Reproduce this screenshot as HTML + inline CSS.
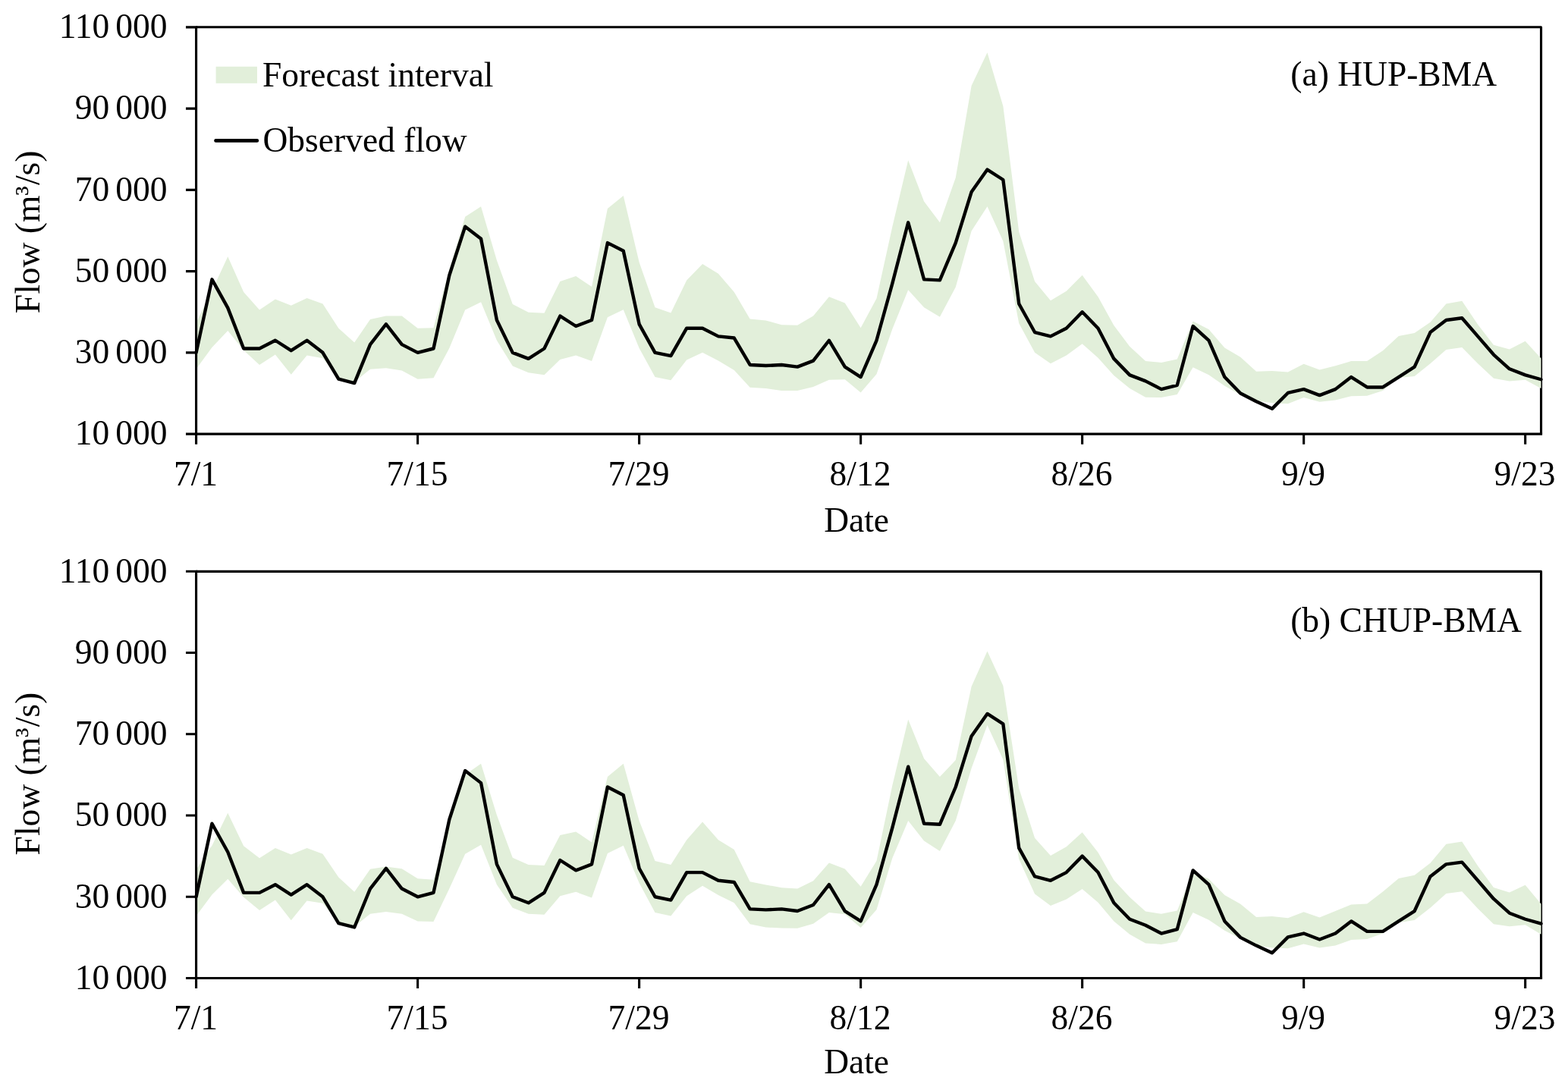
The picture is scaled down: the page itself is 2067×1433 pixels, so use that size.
<!DOCTYPE html>
<html lang="en">
<head>
<meta charset="utf-8">
<title>Forecast interval vs observed flow</title>
<style>
html,body{margin:0;padding:0;background:#fff}
body{width:2067px;height:1433px;overflow:hidden}
svg{display:block}
text{font-family:'Liberation Serif', 'Times New Roman', Times, serif;font-size:45.5px;fill:#000}
</style>
</head>
<body>
<svg width="2067" height="1433" viewBox="0 0 2067 1433">
<rect width="2067" height="1433" fill="#fff"/>
<path fill="none" stroke="#000" stroke-width="3.1" stroke-linejoin="round" d="M258.6 35.8H2031.53V572.1"/>
<polygon fill="#E2EFDA" points="258.6,425.18 279.46,383.36 300.32,338.32 321.17,384.97 342.03,408.56 362.89,394.62 383.75,402.66 404.61,393.01 425.46,400.52 446.32,432.69 467.18,451.46 488.04,420.89 508.9,416.6 529.75,416.6 550.61,432.69 571.47,432.15 592.33,354.94 613.19,285.77 634.04,272.36 654.9,343.14 675.76,401.05 696.62,411.78 717.48,412.85 738.33,371.02 759.19,364.05 780.05,378 800.91,275.05 821.77,257.89 842.62,345.82 863.48,405.34 884.34,412.58 905.2,369.42 926.06,347.97 946.91,360.84 967.77,384.97 988.63,420.62 1009.49,422.5 1030.35,428.13 1051.2,428.67 1072.06,416.6 1092.92,391.13 1113.78,399.44 1134.64,432.15 1155.49,393.55 1176.35,298.64 1197.21,211.24 1218.07,265.39 1238.93,293.28 1259.78,234.29 1280.64,113.11 1301.5,69.14 1322.36,139.92 1343.22,305.61 1364.07,371.02 1384.93,396.23 1405.79,383.63 1426.65,362.71 1447.51,391.13 1468.36,428.93 1489.22,456.82 1510.08,476.12 1530.94,478 1551.8,473.44 1572.65,423.57 1593.51,434.3 1614.37,458.43 1635.23,470.76 1656.09,489.79 1676.94,488.99 1697.8,490.6 1718.66,479.87 1739.52,487.38 1760.38,482.29 1781.23,476.12 1802.09,476.12 1822.95,462.18 1843.81,442.88 1864.67,439.12 1885.52,424.64 1906.38,400.52 1927.24,396.76 1948.1,427.86 1968.96,454.67 1989.81,460.57 2010.67,449.85 2031.53,472.53 2031.53,512.05 2010.67,500.79 1989.81,502.39 1968.96,498.64 1948.1,479.34 1927.24,457.89 1906.38,461.11 1885.52,479.34 1864.67,495.96 1843.81,498.1 1822.95,514.99 1802.09,521.7 1781.23,522.23 1760.38,527.6 1739.52,529.74 1718.66,524.11 1697.8,532.15 1676.94,531.35 1656.09,528.13 1635.23,520.62 1614.37,508.83 1593.51,494.35 1572.65,484.16 1551.8,520.09 1530.94,524.11 1510.08,523.84 1489.22,512.05 1468.36,494.89 1447.51,471.83 1426.65,453.33 1405.79,468.61 1384.93,479.34 1364.07,464.86 1343.22,426.25 1322.36,317.94 1301.5,272.36 1280.64,304.54 1259.78,378.53 1238.93,417.67 1218.07,405.34 1197.21,382.29 1176.35,433.76 1155.49,493.28 1134.64,517.41 1113.78,500.25 1092.92,500.79 1072.06,509.9 1051.2,514.99 1030.35,514.99 1009.49,512.05 988.63,510.71 967.77,487.92 946.91,475.58 926.06,464.86 905.2,474.51 884.34,501.32 863.48,497.03 842.62,458.96 821.77,408.29 800.91,418.21 780.05,476.12 759.19,468.61 738.33,473.98 717.48,494.35 696.62,491.13 675.76,482.55 654.9,448.77 634.04,398.37 613.19,408.56 592.33,458.96 571.47,498.37 550.61,499.71 529.75,488.45 508.9,485.24 488.04,486.84 467.18,503.47 446.32,498.1 425.46,472.37 404.61,468.61 383.75,493.81 362.89,467.54 342.03,480.95 321.17,461.64 300.32,435.91 279.46,457.89 258.6,486.58"/>
<path fill="none" stroke="#000" stroke-width="3.1" d="M258.6 34.25V585.7M245 572.1H2033.08M245 464.86H258.6M245 357.62H258.6M245 250.38H258.6M245 143.14H258.6M245 35.9H258.6M550.61 572.1V585.7M842.62 572.1V585.7M1134.64 572.1V585.7M1426.65 572.1V585.7M1718.66 572.1V585.7M2010.67 572.1V585.7"/>
<polyline fill="none" stroke="#000" stroke-width="4.4" stroke-linejoin="round" stroke-linecap="round" points="258.6,464.86 279.46,368.34 300.32,405.88 321.17,459.5 342.03,459.5 362.89,448.77 383.75,462.18 404.61,448.77 425.46,464.86 446.32,499.71 467.18,505.08 488.04,454.14 508.9,427.33 529.75,454.14 550.61,464.86 571.47,459.5 592.33,362.98 613.19,298.64 634.04,314.72 654.9,421.96 675.76,464.86 696.62,472.9 717.48,459.5 738.33,416.6 759.19,430.01 780.05,421.96 800.91,320.09 821.77,330.81 842.62,427.33 863.48,464.86 884.34,469.15 905.2,432.69 926.06,432.69 946.91,443.41 967.77,445.56 988.63,480.95 1009.49,482.02 1030.35,480.95 1051.2,483.63 1072.06,475.58 1092.92,448.77 1113.78,483.63 1134.64,497.03 1155.49,448.77 1176.35,373.71 1197.21,293.28 1218.07,368.34 1238.93,369.42 1259.78,320.09 1280.64,253.06 1301.5,223.57 1322.36,236.98 1343.22,400.52 1364.07,438.05 1384.93,443.41 1405.79,432.69 1426.65,411.24 1447.51,432.69 1468.36,472.9 1489.22,494.35 1510.08,502.39 1530.94,513.12 1551.8,507.76 1572.65,430.01 1593.51,448.77 1614.37,497.03 1635.23,518.48 1656.09,529.2 1676.94,538.86 1697.8,517.94 1718.66,513.12 1739.52,521.16 1760.38,513.12 1781.23,497.03 1802.09,510.44 1822.95,510.44 1843.81,497.03 1864.67,483.63 1885.52,438.05 1906.38,421.96 1927.24,419.28 1948.1,443.41 1968.96,467.54 1989.81,486.31 2010.67,494.35 2031.53,500.25"/>
<text x="220.5" y="586.4" text-anchor="end">10 <tspan dx="-1.11">000</tspan></text>
<text x="220.5" y="479.16" text-anchor="end">30 <tspan dx="-1.11">000</tspan></text>
<text x="220.5" y="371.92" text-anchor="end">50 <tspan dx="-1.11">000</tspan></text>
<text x="220.5" y="264.68" text-anchor="end">70 <tspan dx="-1.11">000</tspan></text>
<text x="220.5" y="157.44" text-anchor="end">90 <tspan dx="-1.11">000</tspan></text>
<text x="220.5" y="50.2" text-anchor="end">110 <tspan dx="-1.11">000</tspan></text>
<text x="258" y="639.9" text-anchor="middle">7/1</text>
<text x="550.01" y="639.9" text-anchor="middle">7/15</text>
<text x="842.02" y="639.9" text-anchor="middle">7/29</text>
<text x="1134.04" y="639.9" text-anchor="middle">8/12</text>
<text x="1426.05" y="639.9" text-anchor="middle">8/26</text>
<text x="1718.06" y="639.9" text-anchor="middle">9/9</text>
<text x="2010.07" y="639.9" text-anchor="middle">9/23</text>
<text x="1129.1" y="700.8" text-anchor="middle">Date</text>
<text transform="translate(52 305.85) rotate(-90)" text-anchor="middle">Flow (m<tspan font-size="41.5" dy="-2.8">³</tspan><tspan dy="2.8" dx="1.2">/s)</tspan></text>
<text x="1701.3" y="112.6">(a) HUP-BMA</text>
<path fill="none" stroke="#000" stroke-width="3.1" stroke-linejoin="round" d="M258.6 753.4H2031.53V1289.5"/>
<polygon fill="#E2EFDA" points="258.6,1146.33 279.46,1114.7 300.32,1071.8 321.17,1115.23 342.03,1131.32 362.89,1117.92 383.75,1126.5 404.61,1117.92 425.46,1125.69 446.32,1156.52 467.18,1175.83 488.04,1145.8 508.9,1142.58 529.75,1145.26 550.61,1158.13 571.47,1159.74 592.33,1083.06 613.19,1021.4 634.04,1006.65 654.9,1074.48 675.76,1130.78 696.62,1139.9 717.48,1140.97 738.33,1101.03 759.19,1096.47 780.05,1110.41 800.91,1024.08 821.77,1006.65 842.62,1081.99 863.48,1135.07 884.34,1139.9 905.2,1107.19 926.06,1083.6 946.91,1107.19 967.77,1120.06 988.63,1162.15 1009.49,1166.44 1030.35,1170.2 1051.2,1171.54 1072.06,1161.35 1092.92,1137.49 1113.78,1145.53 1134.64,1168.86 1155.49,1135.07 1176.35,1035.34 1197.21,948.48 1218.07,999.95 1238.93,1024.08 1259.78,1002.1 1280.64,905.04 1301.5,858.4 1322.36,903.97 1343.22,1039.36 1364.07,1104.78 1384.93,1128.1 1405.79,1116.31 1426.65,1097.27 1447.51,1123.81 1468.36,1160.28 1489.22,1182.8 1510.08,1201.56 1530.94,1204.78 1551.8,1200.49 1572.65,1150.09 1593.51,1158.67 1614.37,1180.12 1635.23,1191.64 1656.09,1209.07 1676.94,1208 1697.8,1210.14 1718.66,1202.37 1739.52,1209.61 1760.38,1201.03 1781.23,1192.56 1802.09,1191.48 1822.95,1175.4 1843.81,1157.97 1864.67,1153.68 1885.52,1137.86 1906.38,1112.66 1927.24,1109.44 1948.1,1141.62 1968.96,1170.03 1989.81,1176.47 2010.67,1166.82 2031.53,1191.64 2031.53,1231.86 2010.67,1219.26 1989.81,1221.13 1968.96,1218.19 1948.1,1197.81 1927.24,1175.29 1906.38,1177.97 1885.52,1196.74 1864.67,1213.09 1843.81,1216.31 1822.95,1230.52 1802.09,1238.02 1781.23,1239.1 1760.38,1246.6 1739.52,1249.55 1718.66,1244.46 1697.8,1250.36 1676.94,1249.55 1656.09,1246.6 1635.23,1237.49 1614.37,1226.76 1593.51,1212.82 1572.65,1202.9 1551.8,1241.24 1530.94,1245 1510.08,1243.39 1489.22,1231.86 1468.36,1214.43 1447.51,1189.77 1426.65,1172.07 1405.79,1185.48 1384.93,1194.06 1364.07,1178.51 1343.22,1132.39 1322.36,1001.56 1301.5,955.98 1280.64,1012.82 1259.78,1081.99 1238.93,1121.94 1218.07,1108.53 1197.21,1081.99 1176.35,1131.32 1155.49,1199.15 1134.64,1223.01 1113.78,1205.32 1092.92,1202.9 1072.06,1217.65 1051.2,1223.82 1030.35,1223.55 1009.49,1222.47 988.63,1218.19 967.77,1190.3 946.91,1180.12 926.06,1167.78 905.2,1181.19 884.34,1207.46 863.48,1202.9 842.62,1164.03 821.77,1114.7 800.91,1124.89 780.05,1183.6 759.19,1175.83 738.33,1181.19 717.48,1205.85 696.62,1204.78 675.76,1196.74 654.9,1166.17 634.04,1113.63 613.19,1125.69 592.33,1171.54 571.47,1214.97 550.61,1214.43 529.75,1204.78 508.9,1202.1 488.04,1204.78 467.18,1221.4 446.32,1217.11 425.46,1190.84 404.61,1187.62 383.75,1213.36 362.89,1186.55 342.03,1199.95 321.17,1182.8 300.32,1158.67 279.46,1179.58 258.6,1207.46"/>
<path fill="none" stroke="#000" stroke-width="3.1" d="M258.6 751.85V1303.1M245 1289.5H2033.08M245 1182.26H258.6M245 1075.02H258.6M245 967.78H258.6M245 860.54H258.6M245 753.3H258.6M550.61 1289.5V1303.1M842.62 1289.5V1303.1M1134.64 1289.5V1303.1M1426.65 1289.5V1303.1M1718.66 1289.5V1303.1M2010.67 1289.5V1303.1"/>
<polyline fill="none" stroke="#000" stroke-width="4.4" stroke-linejoin="round" stroke-linecap="round" points="258.6,1182.26 279.46,1085.74 300.32,1123.28 321.17,1176.9 342.03,1176.9 362.89,1166.17 383.75,1179.58 404.61,1166.17 425.46,1182.26 446.32,1217.11 467.18,1222.47 488.04,1171.54 508.9,1144.73 529.75,1171.54 550.61,1182.26 571.47,1176.9 592.33,1080.38 613.19,1016.04 634.04,1032.12 654.9,1139.36 675.76,1182.26 696.62,1190.3 717.48,1176.9 738.33,1134 759.19,1147.41 780.05,1139.36 800.91,1037.49 821.77,1048.21 842.62,1144.73 863.48,1182.26 884.34,1186.55 905.2,1150.09 926.06,1150.09 946.91,1160.81 967.77,1162.96 988.63,1198.35 1009.49,1199.42 1030.35,1198.35 1051.2,1201.03 1072.06,1192.98 1092.92,1166.17 1113.78,1201.03 1134.64,1214.43 1155.49,1166.17 1176.35,1091.11 1197.21,1010.68 1218.07,1085.74 1238.93,1086.82 1259.78,1037.49 1280.64,970.46 1301.5,940.97 1322.36,954.38 1343.22,1117.92 1364.07,1155.45 1384.93,1160.81 1405.79,1150.09 1426.65,1128.64 1447.51,1150.09 1468.36,1190.3 1489.22,1211.75 1510.08,1219.79 1530.94,1230.52 1551.8,1225.16 1572.65,1147.41 1593.51,1166.17 1614.37,1214.43 1635.23,1235.88 1656.09,1246.6 1676.94,1256.26 1697.8,1235.34 1718.66,1230.52 1739.52,1238.56 1760.38,1230.52 1781.23,1214.43 1802.09,1227.84 1822.95,1227.84 1843.81,1214.43 1864.67,1201.03 1885.52,1155.45 1906.38,1139.36 1927.24,1136.68 1948.1,1160.81 1968.96,1184.94 1989.81,1203.71 2010.67,1211.75 2031.53,1217.65"/>
<text x="220.5" y="1303.8" text-anchor="end">10 <tspan dx="-1.11">000</tspan></text>
<text x="220.5" y="1196.56" text-anchor="end">30 <tspan dx="-1.11">000</tspan></text>
<text x="220.5" y="1089.32" text-anchor="end">50 <tspan dx="-1.11">000</tspan></text>
<text x="220.5" y="982.08" text-anchor="end">70 <tspan dx="-1.11">000</tspan></text>
<text x="220.5" y="874.84" text-anchor="end">90 <tspan dx="-1.11">000</tspan></text>
<text x="220.5" y="767.6" text-anchor="end">110 <tspan dx="-1.11">000</tspan></text>
<text x="258" y="1357.3" text-anchor="middle">7/1</text>
<text x="550.01" y="1357.3" text-anchor="middle">7/15</text>
<text x="842.02" y="1357.3" text-anchor="middle">7/29</text>
<text x="1134.04" y="1357.3" text-anchor="middle">8/12</text>
<text x="1426.05" y="1357.3" text-anchor="middle">8/26</text>
<text x="1718.06" y="1357.3" text-anchor="middle">9/9</text>
<text x="2010.07" y="1357.3" text-anchor="middle">9/23</text>
<text x="1129.1" y="1414.8" text-anchor="middle">Date</text>
<text transform="translate(52 1020.1) rotate(-90)" text-anchor="middle">Flow (m<tspan font-size="41.5" dy="-2.8">³</tspan><tspan dy="2.8" dx="1.2">/s)</tspan></text>
<text x="1701.2" y="833.4">(b) CHUP-BMA</text>
<rect x="284.6" y="87.8" width="54.4" height="22" fill="#E2EFDA"/>
<text x="346" y="114.3">Forecast interval</text>
<line x1="284.5" y1="185.4" x2="338.9" y2="185.4" stroke="#000" stroke-width="4.6" stroke-linecap="round"/>
<text x="346.5" y="200.0">Observed flow</text>
</svg>
</body>
</html>
